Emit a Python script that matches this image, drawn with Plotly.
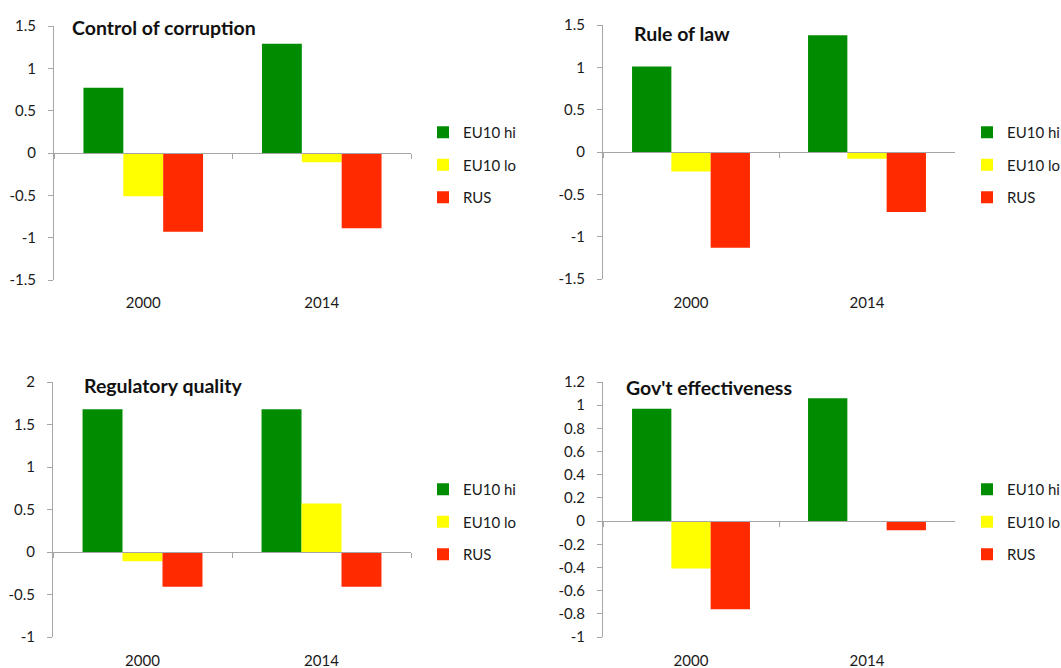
import plotly.graph_objects as go

years = ["2000", "2014"]
series = ["EU10 hi", "EU10 lo", "RUS"]
colors = ["#008c00", "#ffff00", "#ff2a00"]

titles = ["Control of corruption", "Rule of law", "Regulatory quality", "Gov't effectiveness"]

corruption_hi = [0.77, 1.29]
corruption_lo = [-0.51, -0.11]
corruption_rus = [-0.93, -0.89]

law_hi = [1.01, 1.38]
law_lo = [-0.23, -0.08]
law_rus = [-1.13, -0.71]

regulatory_hi = [1.68, 1.68]
regulatory_lo = [-0.11, 0.57]
regulatory_rus = [-0.41, -0.41]

gov_hi = [0.97, 1.06]
gov_lo = [-0.41, 0.0]
gov_rus = [-0.76, -0.08]

ticks_15 = [-1.5, -1, -0.5, 0, 0.5, 1, 1.5]
ticks_15_text = ["-1.5", "-1", "-0.5", "0", "0.5", "1", "1.5"]
ticks_2 = [-1, -0.5, 0, 0.5, 1, 1.5, 2]
ticks_2_text = ["-1", "-0.5", "0", "0.5", "1", "1.5", "2"]
ticks_12 = [-1, -0.8, -0.6, -0.4, -0.2, 0, 0.2, 0.4, 0.6, 0.8, 1, 1.2]
ticks_12_text = ["-1", "-0.8", "-0.6", "-0.4", "-0.2", "0", "0.2", "0.4", "0.6", "0.8", "1", "1.2"]

W, H = 1061, 668
FONT = "Lato"
GRAY = "#a6a6a6"
TXT = "#1a1a1a"

panels = [
    dict(data=[corruption_hi, corruption_lo, corruption_rus], rng=[-1.5, 1.5], tv=ticks_15, tt=ticks_15_text,
         px_x=(54, 411), px_y=(26, 280), label_y=302, title_xy=(70, 27), legend_xy=(423, 165)),
    dict(data=[law_hi, law_lo, law_rus], rng=[-1.5, 1.5], tv=ticks_15, tt=ticks_15_text,
         px_x=(603, 955), px_y=(25, 279), label_y=302, title_xy=(632, 33), legend_xy=(967, 165)),
    dict(data=[regulatory_hi, regulatory_lo, regulatory_rus], rng=[-1, 2], tv=ticks_2, tt=ticks_2_text,
         px_x=(53, 411), px_y=(382, 637), label_y=660, title_xy=(82, 386), legend_xy=(423, 522)),
    dict(data=[gov_hi, gov_lo, gov_rus], rng=[-1, 1.2], tv=ticks_12, tt=ticks_12_text,
         px_x=(603, 955), px_y=(382, 637), label_y=660, title_xy=(624, 387), legend_xy=(967, 522)),
]

fig = go.Figure()
layout = dict(
    width=W, height=H, margin=dict(l=0, r=0, t=0, b=0, autoexpand=False),
    paper_bgcolor="white", plot_bgcolor="white",
    barmode="group", bargap=0.33, bargroupgap=0,
    font=dict(family=FONT, size=15, color=TXT),
    annotations=[],
)

for i, p in enumerate(panels):
    n = i + 1
    xa = "x" if n == 1 else f"x{n}"
    ya = "y" if n == 1 else f"y{n}"
    lg = "legend" if n == 1 else f"legend{n}"
    for s, vals, c in zip(series, p["data"], colors):
        fig.add_trace(go.Bar(
            x=years, y=vals, name=s, marker=dict(color=c, line=dict(width=0)),
            xaxis=xa, yaxis=ya, legend=lg, legendgroup=f"{s}{n}", showlegend=True,
        ))
    dx = [p["px_x"][0] / W, p["px_x"][1] / W]
    dy = [1 - p["px_y"][1] / H, 1 - p["px_y"][0] / H]
    r0, r1 = p["rng"]
    zero_paper = dy[0] + (0 - r0) / (r1 - r0) * (dy[1] - dy[0])
    zero_px = (1 - zero_paper) * H
    standoff = max(0, int(round(p["label_y"] - 8 - zero_px - 5)))
    xkey = "xaxis" if n == 1 else f"xaxis{n}"
    ykey = "yaxis" if n == 1 else f"yaxis{n}"
    layout[xkey] = dict(
        domain=dx, anchor="free", position=zero_paper, type="category",
        showline=True, linecolor=GRAY, linewidth=1,
        ticks="outside", ticklen=5, tickcolor=GRAY, tickson="boundaries",
        showgrid=False, zeroline=False, ticklabelstandoff=standoff,
        tickfont=dict(family=FONT, size=15, color=TXT),
    )
    layout[ykey] = dict(
        domain=dy, anchor=xa, range=p["rng"], tickvals=p["tv"], ticktext=p["tt"],
        showline=True, linecolor=GRAY, linewidth=1,
        ticks="outside", ticklen=5, tickcolor=GRAY,
        showgrid=False, zeroline=False, ticklabelstandoff=9,
        tickfont=dict(family=FONT, size=15, color=TXT),
    )
    layout[lg] = dict(
        x=p["legend_xy"][0] / W, y=1 - p["legend_xy"][1] / H, xanchor="left", yanchor="middle",
        bgcolor="rgba(0,0,0,0)", font=dict(family=FONT, size=15, color=TXT),
        tracegroupgap=10, itemwidth=30, traceorder="grouped",
    )
    layout["annotations"].append(dict(
        text=f"<b>{titles[i]}</b>", x=p["title_xy"][0] / W, y=1 - p["title_xy"][1] / H,
        xref="paper", yref="paper", xanchor="left", yanchor="middle", showarrow=False,
        font=dict(family=FONT, size=19.5, color="#111111"),
    ))

fig.update_layout(**layout)
fig.write_html("out.html", post_script="document.body.style.margin='0';",
               config={"displayModeBar": False})
